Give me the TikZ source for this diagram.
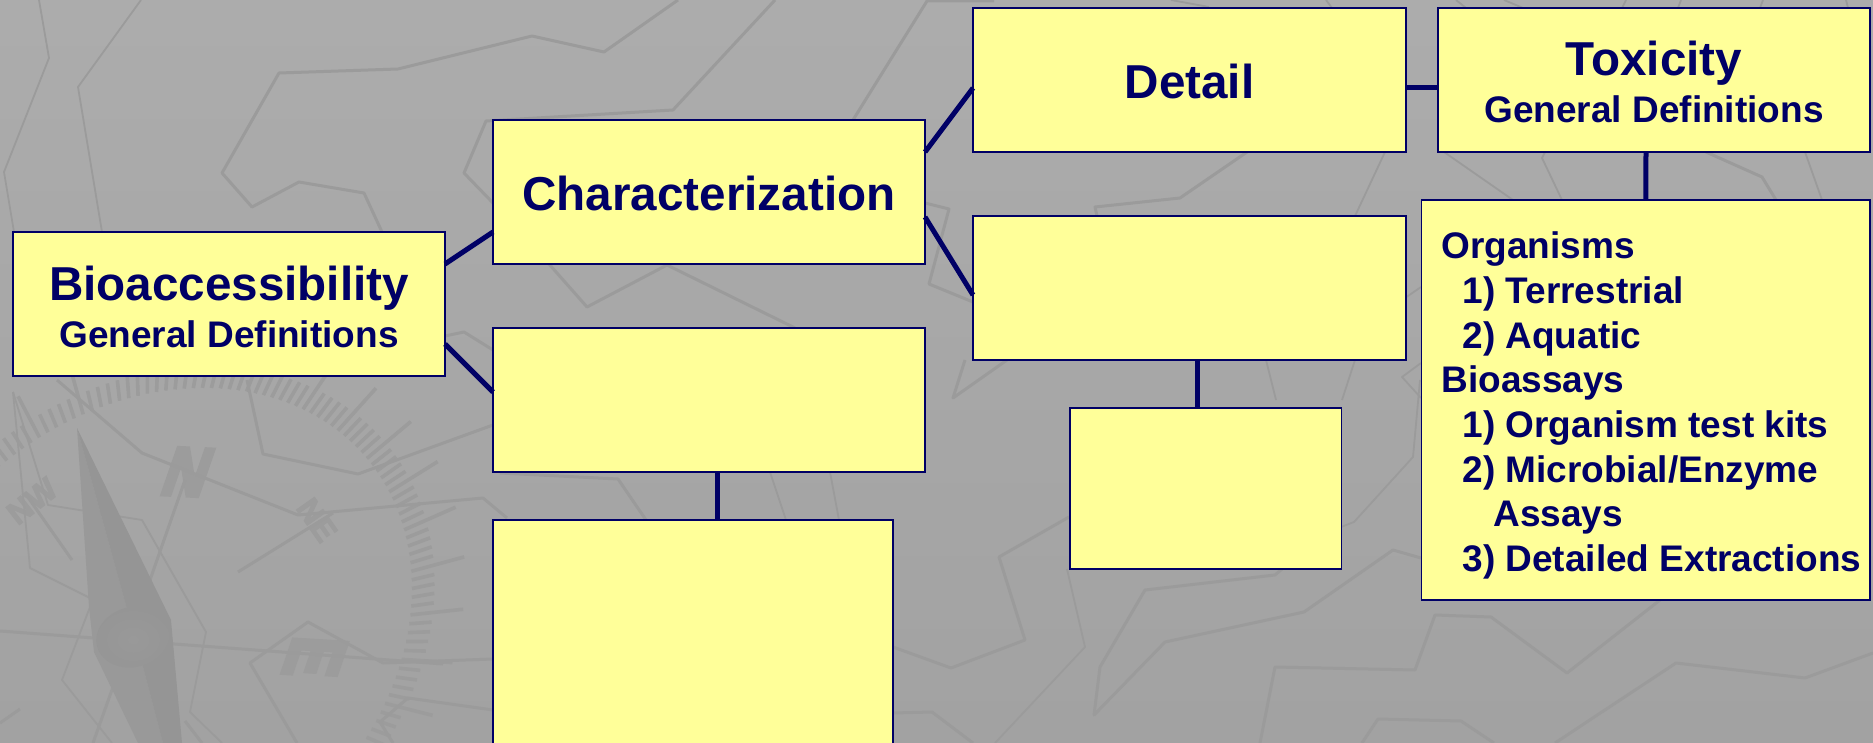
\documentclass[tikz,border=0pt]{standalone}
\usepackage{fontspec}
\setmainfont{Liberation Sans}
\font\fatbig="Liberation Sans/B:embolden=6" at 71pt
\font\fatbige="Liberation Sans/B:embolden=6" at 70pt
\font\fatsmall="Liberation Sans/B:embolden=3" at 32pt
\definecolor{navyline}{HTML}{000066}
\definecolor{boxfill}{HTML}{FFFF99}
\definecolor{mapline}{HTML}{9B9B9B}
\definecolor{tickgray}{HTML}{9C9C9C}
\newcommand{\bigtxt}{\fontsize{47.6}{54}\bfseries\selectfont}
\newcommand{\smalltxt}{\fontsize{37}{44.7}\bfseries\selectfont}
\tikzset{
  yellowbox/.style={draw=navyline,fill=boxfill,line width=1.7pt,inner sep=0pt,outer sep=0pt,text=navyline,align=center},
  linkline/.style={draw=navyline,line width=5pt},
  mapthick/.style={draw=mapline,line width=3pt,line join=round},
  mapthin/.style={draw=mapline,line width=1.8pt,line join=round},
  dialletter/.style={text=tickgray,inner sep=0pt}
}
\begin{document}
\begin{tikzpicture}[x=1pt,y=-1pt]
\useasboundingbox (0,0) rectangle (1873,743);
\begin{scope}
\clip (0,0) rectangle (1873,743);
\shade[top color=black!32.5!white,bottom color=black!36.5!white] (0,0) rectangle (1873,743);
% compass dial
\foreach \i in {0,...,179}{
  \pgfmathsetmacro\tickang{2*\i}
  \pgfmathtruncatemacro\tickm{mod(\i,5)}
  \pgfmathsetmacro\tickout{\tickm==0?1.2:1.085}
  \pgfmathsetmacro\ca{287*cos(\tickang)}
  \pgfmathsetmacro\sa{230*sin(\tickang)}
  \pgfmathsetmacro\dxa{\ca*.766-\sa*.643}
  \pgfmathsetmacro\dya{-\ca*.643-\sa*.766}
  \draw[tickgray,line width=3.6pt] ({147+\dxa},{643+\dya}) -- ({147+\tickout*\dxa},{643+\tickout*\dya});
}
% compass letters
\node[dialletter,font=\fatbig,cm={.85,-.04,.33,.95,(0,0)}] at (188,472) {N};
\node[dialletter,font=\fatbige,cm={-.29,-.86,1.1,-.066,(0,0)}] at (315,657) {E};
\node[dialletter,font=\fatsmall,rotate=-55] at (317,520) {NE};
\node[dialletter,font=\fatsmall,rotate=38] at (32,501) {NW};
% map lines
\draw[mapthin] (39,0)--(49,58)--(4,172)--(14,232);
\draw[mapthin] (141,0)--(78,87)--(102,232);
\draw[mapthick] (678,0)--(604,52)--(532,36)--(398,69)--(279,73)--(222,173)--(252,207)--(299,182)--(364,193)--(382,232);
\draw[mapthick] (775,0)--(673,110)--(486,121)--(464,173)--(493,203);
\draw[mapthick] (549,264)--(587,307)--(667,265)--(795,328);
\draw[mapthick] (994,1)--(927,1)--(853,120);
\draw[mapthick] (925,203)--(949,209)--(929,284)--(973,302);
\draw[mapthick] (445,336)--(464,332)--(493,350);
\draw[mapthick] (1007,360)--(953,398)--(965,360);
\draw[mapthick] (1247,152)--(1180,198)--(1095,207)--(1097,216);
\draw[mapthin] (1385,152)--(1355,216);
\draw[mapthin] (1266,360)--(1276,400);
\draw[mapthin] (1355,360)--(1342,400);
\draw[mapthin] (1421,363)--(1402,377)--(1421,398);
\draw[mapthin] (1421,287)--(1405,298);
\draw[mapthin] (1444,152)--(1513,200);
\draw[mapthin] (1545,152)--(1542,158)--(1562,200);
\draw[mapthick] (1706,152)--(1762,177)--(1776,200);
\draw[mapthin] (1805,152)--(1822,200);
\draw[mapthin] (1171,0)--(1209,7);
\draw[mapthin] (1326,0)--(1332,8);
\draw[mapthin] (1456,0)--(1466,8);
\draw[mapthin] (1504,0)--(1523,8);
\draw[mapthin] (1626,0)--(1622,8);
\draw[mapthin] (1681,0)--(1678,8);
\draw[mapthin] (1763,0)--(1760,8);
\draw[mapthin] (1846,0)--(1848,8);
\draw[mapthick] (500,473)--(618,479)--(646,520);
\draw[mapthin] (770,472)--(786,520);
\draw[mapthin] (830,472)--(839,520);
\draw[mapthick] (1069,517)--(999,557)--(1025,640)--(951,668)--(893,647);
\draw[mapthin] (1067,569)--(1085,647)--(995,743);
\draw[mapthick] (1282,569)--(1275,575)--(1145,590)--(1100,667)--(1094,715)--(1165,642)--(1304,612)--(1393,550)--(1421,558);
\draw[mapthin] (1341,527)--(1354,522)--(1413,457)--(1420,380);
\draw[mapthick] (1660,600)--(1567,673)--(1491,617)--(1435,615)--(1415,670)--(1275,667)--(1260,743);
\draw[mapthick] (1873,653)--(1805,678)--(1676,663)--(1555,743);
\draw[mapthick] (1494,743)--(1461,721)--(1378,719)--(1362,743);
\draw[mapthick] (893,713)--(932,712)--(973,743);
\draw[mapthick] (57,380)--(142,453)--(298,515)--(483,498)--(507,518);
\draw[mapthick] (247,380)--(263,454)--(358,474)--(493,425);
\draw[mapthick] (185,480)--(150,580)--(113,687)--(93,743);
\draw[mapthick] (0,631)--(443,664);
\draw[mapthick] (297,743)--(250,663)--(308,622)--(383,663)--(493,659);
\draw[mapthin] (13,392)--(48,505)--(142,520)--(206,632)--(190,712)--(222,743);
\draw[mapthin] (13,392)--(30,568)--(90,598);
\draw[mapthin] (90,607)--(62,680)--(112,743);
\draw[mapthick] (238,572)--(333,513);
\draw[mapthick] (72,560)--(25,493);
\draw[mapthick] (0,723)--(20,709);
\draw[mapthick] (185,721)--(202,743);
\draw[mapthick] (393,743)--(380,722)--(408,698)--(493,710);
% compass needle
\fill[black!40] (77,428)--(89,607)--(94,652)--(138,743)--(163,743)--(143,667)--cycle;
\fill[black!41.5] (77,428)--(171,620)--(182,743)--(163,743)--(143,667)--cycle;
\shade[inner color=black!40,outer color=black!41.5,rotate around={15:(133,637)}] (133,637) ellipse [x radius=37,y radius=30];
% boxes
\node[yellowbox,minimum width=432pt,minimum height=144pt] (bio) at (229,304) {\bigtxt\rule{0pt}{41pt}Bioaccessibility\\[9pt]\smalltxt General Definitions};
\node[yellowbox,minimum width=432pt,minimum height=144pt] (char) at (709,192) {\bigtxt\rule{0pt}{38pt}Characterization};
\node[yellowbox,minimum width=432pt,minimum height=144pt] (blanka) at (709,400) {};
\node[yellowbox,minimum width=400pt,minimum height=260pt] (blanktall) at (693,650) {};
\node[yellowbox,minimum width=433pt,minimum height=144pt] (detail) at (1189.5,80) {\bigtxt\rule{0pt}{38pt}Detail};
\node[yellowbox,minimum width=432pt,minimum height=144pt] (tox) at (1654,80) {\bigtxt\rule{0pt}{39pt}Toxicity\\[9pt]\smalltxt General Definitions};
\node[yellowbox,minimum width=433pt,minimum height=144pt] (blankb) at (1189.5,288) {};
\node[yellowbox,minimum width=271.5pt,minimum height=161pt] (blankc) at (1205.75,488.5) {};
\node[yellowbox,minimum width=448.5pt,minimum height=400pt,text width=448.5pt,font=\smalltxt,align=flush left] (org) at (1645.75,400) {\rule{0pt}{38pt}\hspace*{20pt}Organisms\\
\hspace*{41pt}1) Terrestrial\\
\hspace*{41pt}2) Aquatic\\
\hspace*{20pt}Bioassays\\
\hspace*{41pt}1) Organism test kits\\
\hspace*{41pt}2) Microbial/Enzyme\\
\hspace*{72pt}Assays\\
\hspace*{41pt}3) Detailed Extractions};
% connectors
\draw[linkline] ([yshift=40pt]bio.east) -- ([yshift=-40pt]char.west);
\draw[linkline] ([yshift=-40pt]bio.east) -- ([yshift=8pt]blanka.west);
\draw[linkline] ([yshift=40pt]char.east) -- ([yshift=-8pt]detail.west);
\draw[linkline] ([yshift=-25pt]char.east) -- ([yshift=-7pt]blankb.west);
\draw[linkline] ([yshift=-8pt]detail.east) -- ([yshift=-8pt]tox.west);
\draw[linkline] ([xshift=-8pt]tox.south) -- (org.north);
\draw[linkline] ([xshift=7.5pt]blankb.south) -- ([xshift=-8.75pt]blankc.north);
\draw[linkline] ([xshift=8pt]blanka.south) -- ([xshift=24pt]blanktall.north);
\end{scope}
\end{tikzpicture}
\end{document}
